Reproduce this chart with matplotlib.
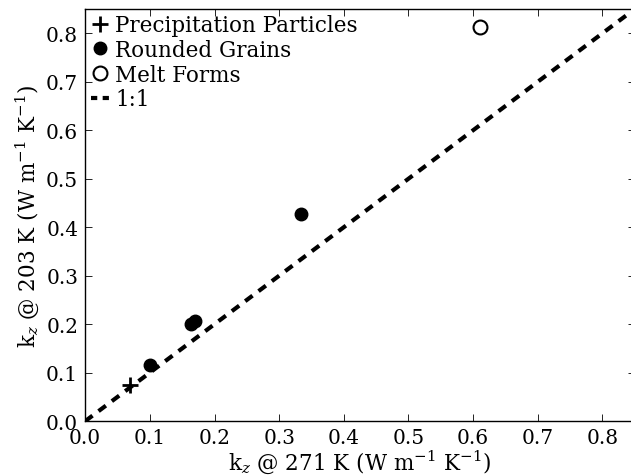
import matplotlib
matplotlib.use('Agg')
import matplotlib.pyplot as plt
import numpy as np

plt.rcParams['font.family'] = 'DejaVu Serif'
plt.rcParams['mathtext.fontset'] = 'dejavuserif'
plt.rcParams['font.size'] = 14.5

# k_z values (W m-1 K-1)
pp_271 = [0.069]
pp_203 = [0.074]
rg_271 = [0.101, 0.163, 0.170, 0.334]
rg_203 = [0.115, 0.200, 0.206, 0.427]
mf_271 = [0.611]
mf_203 = [0.812]
lims = [0.0, 0.85]

fig = plt.figure(figsize=(6.31, 4.77), dpi=100)
ax = fig.add_axes([0.135, 0.115, 0.871, 0.864])

ax.plot(pp_271, pp_203, 'k+', ms=11, mew=2, label='Precipitation Particles')
ax.plot(rg_271, rg_203, 'ko', ms=9, label='Rounded Grains')
ax.plot(mf_271, mf_203, 'o', mfc='none', mec='k', ms=10, mew=1.5, label='Melt Forms')
ax.plot(lims, lims, 'k--', lw=3, dashes=(2.2, 1.8), label='1:1')

ax.set_xlim(lims)
ax.set_ylim(lims)
ax.set_xticks(np.arange(0, 0.81, 0.1))
ax.set_yticks(np.arange(0, 0.81, 0.1))
ax.tick_params(direction='in', top=True, right=True, length=5, width=0.6, pad=5)
for s in ax.spines.values():
    s.set_linewidth(1.0)

ax.set_xlabel(r'k$_z$ @ 271 K (W m$^{-1}$ K$^{-1}$)', fontsize=15.5, labelpad=0)
ax.set_ylabel(r'k$_z$ @ 203 K (W m$^{-1}$ K$^{-1}$)', fontsize=15.5, labelpad=4)

leg = ax.legend(loc='upper left', frameon=False, fontsize=15.5, handlelength=0.85,
                handletextpad=0.3, borderaxespad=0.0, borderpad=0.25,
                labelspacing=0.12, numpoints=1)
leg.get_lines()[-1].set_dashes((1.5, 1.3))

fig.savefig('out.png', dpi=100)
